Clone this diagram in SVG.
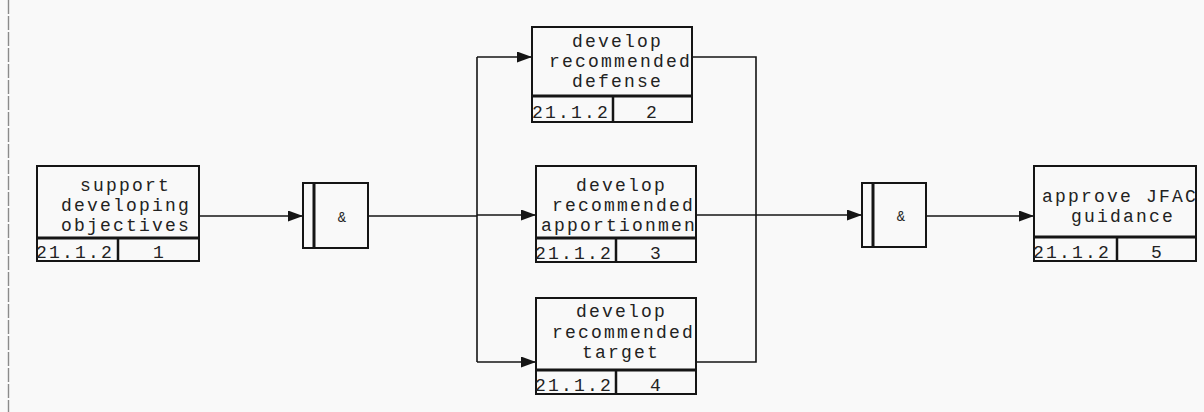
<svg xmlns="http://www.w3.org/2000/svg" width="1204" height="412" viewBox="0 0 1204 412">
  <style>
    .box { fill: #f9f9f9; stroke: #151515; stroke-width: 2; }
    .div { stroke: #151515; stroke-width: 3; }
    .cell { stroke: #151515; stroke-width: 2.5; }
    .bar { stroke: #151515; stroke-width: 3; }
    .lbl { font-family: "Liberation Mono", "DejaVu Sans Mono", monospace; font-size: 18px; letter-spacing: 2.2px; fill: #222; }
    .num { font-family: "Liberation Mono", "DejaVu Sans Mono", monospace; font-size: 18px; letter-spacing: 2.2px; fill: #222; }
    .amp { font-family: "Liberation Mono", "DejaVu Sans Mono", monospace; font-size: 14px; fill: #222; text-anchor: middle; }
    .wire { fill: none; stroke: #151515; stroke-width: 1.6; }
  </style>
  <defs>
    <marker id="arrow" markerUnits="userSpaceOnUse" markerWidth="16" markerHeight="12" refX="15" refY="5.5" orient="auto">
      <path d="M0,0 L15,5.5 L0,11 Z" fill="#151515"/>
    </marker>
    <clipPath id="clip1"><rect x="38" y="167" width="160" height="70"/></clipPath>
    <clipPath id="clip2"><rect x="533" y="28" width="158" height="67"/></clipPath>
    <clipPath id="clip3"><rect x="537" y="167" width="158" height="70"/></clipPath>
    <clipPath id="clip4"><rect x="537" y="299" width="158" height="70"/></clipPath>
    <clipPath id="clip5"><rect x="1035" y="167" width="160" height="69"/></clipPath>
  </defs>

  <rect width="1204" height="412" fill="#f9f9f9"/>
  <!-- page margin -->
  <line x1="8.5" y1="0" x2="8.5" y2="412" stroke="#8a8a8a" stroke-width="1.4" stroke-dasharray="14 2"/>

  <!-- connectors -->
  <g id="connectors">
    <path class="wire" d="M199,216 H303" marker-end="url(#arrow)"/>
    <path class="wire" d="M368,216 H477"/>
    <path class="wire" d="M477,57 V362"/>
    <path class="wire" d="M477,57 H532" marker-end="url(#arrow)"/>
    <path class="wire" d="M477,215 H536" marker-end="url(#arrow)"/>
    <path class="wire" d="M477,362 H536" marker-end="url(#arrow)"/>
    <path class="wire" d="M692,57 H756 V362 H696"/>
    <path class="wire" d="M696,215 H862" marker-end="url(#arrow)"/>
    <path class="wire" d="M926,216 H1034" marker-end="url(#arrow)"/>
  </g>

  <!-- activity 1 -->
  <g id="node1">
    <rect class="box" x="37" y="166" width="162" height="95"/>
    <g clip-path="url(#clip1)" class="lbl">
      <text x="80" y="191">support</text>
      <text x="61" y="211">developing</text>
      <text x="61" y="231">objectives</text>
    </g>
    <line class="div" x1="37" y1="238" x2="199" y2="238"/>
    <line class="cell" x1="118" y1="238" x2="118" y2="261"/>
    <text class="num" x="36" y="258">21.1.2</text>
    <text class="num" x="153" y="258">1</text>
  </g>

  <!-- AND junction 1 -->
  <g id="junction1">
    <rect class="box" x="303" y="183" width="65" height="65"/>
    <line class="bar" x1="314" y1="183" x2="314" y2="248"/>
    <text class="amp" x="342" y="222">&amp;</text>
  </g>

  <!-- activity 2 -->
  <g id="node2">
    <rect class="box" x="532" y="27" width="160" height="95"/>
    <g clip-path="url(#clip2)" class="lbl">
      <text x="572" y="47">develop</text>
      <text x="549" y="67">recommended</text>
      <text x="572" y="87">defense</text>
    </g>
    <line class="div" x1="532" y1="96" x2="692" y2="96"/>
    <line class="cell" x1="613" y1="96" x2="613" y2="122"/>
    <text class="num" x="532" y="118">21.1.2</text>
    <text class="num" x="646" y="118">2</text>
  </g>

  <!-- activity 3 -->
  <g id="node3">
    <rect class="box" x="536" y="166" width="160" height="96"/>
    <g clip-path="url(#clip3)" class="lbl">
      <text x="576" y="191">develop</text>
      <text x="552" y="211">recommended</text>
      <text x="541" y="231">apportionmen</text>
    </g>
    <line class="div" x1="536" y1="238" x2="696" y2="238"/>
    <line class="cell" x1="616" y1="238" x2="616" y2="262"/>
    <text class="num" x="535" y="259">21.1.2</text>
    <text class="num" x="650" y="259">3</text>
  </g>

  <!-- activity 4 -->
  <g id="node4">
    <rect class="box" x="536" y="298" width="160" height="96"/>
    <g clip-path="url(#clip4)" class="lbl">
      <text x="576" y="317">develop</text>
      <text x="552" y="338">recommended</text>
      <text x="582" y="358">target</text>
    </g>
    <line class="div" x1="536" y1="370" x2="696" y2="370"/>
    <line class="cell" x1="616" y1="370" x2="616" y2="394"/>
    <text class="num" x="535" y="391">21.1.2</text>
    <text class="num" x="650" y="391">4</text>
  </g>

  <!-- AND junction 2 -->
  <g id="junction2">
    <rect class="box" x="862" y="183" width="64" height="64"/>
    <line class="bar" x1="873" y1="183" x2="873" y2="247"/>
    <text class="amp" x="901" y="221">&amp;</text>
  </g>

  <!-- activity 5 -->
  <g id="node5">
    <rect class="box" x="1034" y="166" width="162" height="95"/>
    <g clip-path="url(#clip5)" class="lbl">
      <text x="1042" y="202">approve JFAC</text>
      <text x="1071" y="222">guidance</text>
    </g>
    <line class="div" x1="1034" y1="237" x2="1196" y2="237"/>
    <line class="cell" x1="1117" y1="237" x2="1117" y2="261"/>
    <text class="num" x="1033" y="258">21.1.2</text>
    <text class="num" x="1151" y="258">5</text>
  </g>
</svg>
